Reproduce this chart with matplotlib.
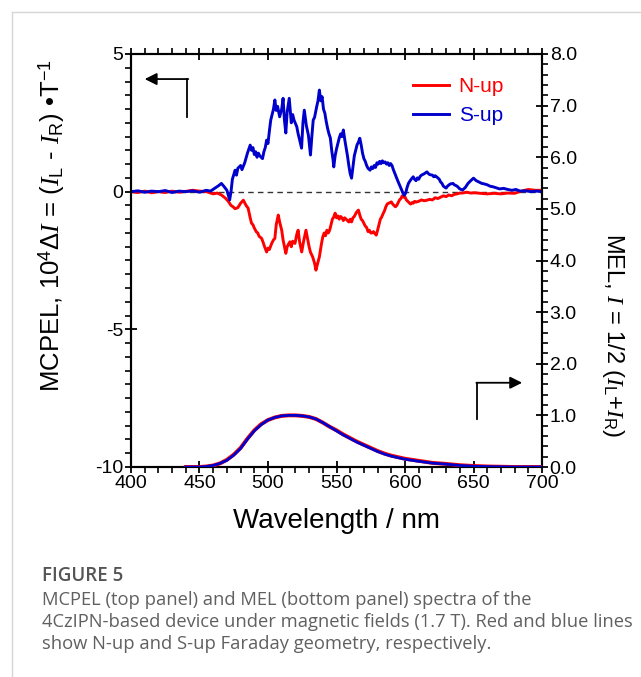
import matplotlib
matplotlib.use("Agg")
import matplotlib.pyplot as plt
from matplotlib.lines import Line2D
from matplotlib.ticker import MultipleLocator, FormatStrFormatter

plt.rcParams["font.family"] = ["Liberation Sans", "DejaVu Sans"]
plt.rcParams["axes.unicode_minus"] = False
plt.rcParams["mathtext.fontset"] = "custom"
plt.rcParams["mathtext.rm"] = "Liberation Sans"
plt.rcParams["mathtext.it"] = "Liberation Serif:italic"

RED = "#ff0000"
BLUE = "#0000cc"
INK = "#000000"
CAPTION = "#606060"

# --- MCPEL, S-up (blue) ---
wl_s = [400, 405, 410, 415, 420, 425, 430, 435, 440, 445, 450, 455, 458, 461, 464, 466, 468, 470,
        472, 473, 474, 476, 477, 478, 480, 481, 483, 485, 486, 487, 488, 489, 490, 491, 492, 493,
        494, 496, 497, 498, 499, 500, 501, 502, 503, 504, 505, 506, 507, 508.5, 510, 511, 512, 513,
        514, 515.5, 517, 518, 519, 521, 522, 523, 524.5, 525.5, 526.5, 528, 529.5, 531, 532, 533,
        534, 535.5, 536.5, 537.5, 538.5, 539.5, 540.5, 541.5, 542.5, 543.5, 544.5, 545.5, 546.5,
        547.5, 548, 549, 550, 551, 552, 553, 554, 555, 556, 557, 558, 559, 560, 561, 562, 563, 564,
        565, 566, 567, 568, 569, 570, 571, 572, 573, 574.5, 575.5, 576.5, 577.5, 578.5, 579.5,
        580.5, 581.5, 582.5, 583.5, 584.5, 585.5, 586.5, 587.5, 588.5, 589.5, 590.5, 591.5, 592.5,
        593.5, 594.5, 595.5, 596.5, 597.5, 598.5, 599.5, 600.5, 601.5, 602.5, 603.5, 604.5, 606,
        607, 608, 609, 610, 611, 612, 614, 616, 617, 618, 620, 621, 622, 624, 625, 626, 627, 628,
        630, 631, 633, 635, 636, 638, 640, 642, 644, 646, 648, 650, 652, 654, 656, 658, 660, 662,
        664, 666, 669, 672, 675, 678, 681, 684, 688, 692, 696, 700]
mcpel_s = [0.0, 0.03, -0.02, 0.02, 0.0, 0.04, -0.03, 0.02, 0.0, 0.03, -0.02, 0.05, 0.02, 0.12,
           0.22, 0.3, 0.18, 0.05, -0.3, 0.0, 0.45, 0.78, 0.6, 0.85, 0.95, 0.8, 1.05, 1.4, 1.55,
           1.69, 1.5, 1.6, 1.35, 1.45, 1.25, 1.4, 1.3, 1.2, 1.45, 1.6, 1.87, 1.75, 2.2, 2.6, 2.8,
           3.0, 3.33, 2.95, 3.1, 2.72, 3.0, 3.39, 2.6, 2.13, 2.9, 3.39, 2.5, 2.8, 2.6, 2.36, 2.1,
           1.9, 1.58, 2.5, 2.96, 2.4, 2.05, 1.33, 2.0, 2.6, 2.7, 3.08, 3.3, 3.69, 3.3, 3.45, 3.0,
           2.85, 2.55, 2.3, 2.1, 1.95, 1.5, 1.15, 0.9, 1.3, 1.55, 1.75, 1.95, 2.1, 2.0, 2.24, 1.9,
           1.6, 1.3, 0.95, 0.65, 0.49, 0.9, 1.3, 1.5, 1.7, 1.8, 1.94, 1.7, 1.4, 1.2, 1.1, 0.95,
           0.85, 0.78, 0.9, 0.84, 0.95, 0.88, 1.05, 1.0, 1.1, 1.02, 1.12, 1.05, 1.08, 1.0, 1.05,
           0.95, 1.02, 0.95, 0.8, 0.67, 0.55, 0.42, 0.3, 0.18, 0.05, -0.05, -0.13, -0.05, 0.15,
           0.3, 0.38, 0.45, 0.54, 0.45, 0.4, 0.5, 0.45, 0.55, 0.6, 0.65, 0.72, 0.66, 0.62, 0.6,
           0.54, 0.58, 0.5, 0.45, 0.35, 0.3, 0.2, 0.13, 0.2, 0.28, 0.3, 0.25, 0.2, 0.1, 0.06, 0.15,
           0.3, 0.4, 0.49, 0.4, 0.35, 0.3, 0.28, 0.25, 0.2, 0.18, 0.15, 0.1, 0.12, 0.08, 0.05,
           0.08, 0.02, 0.03, 0.0, 0.02, 0.0]

# --- MCPEL, N-up (red) ---
wl_n = [400, 405, 410, 415, 420, 425, 430, 435, 440, 445, 450, 455, 460, 463, 466, 469, 471, 473,
        474.5, 476, 478, 480, 482, 484, 485.5, 487, 488, 489, 490, 491.5, 492.5, 493.5, 495.4,
        496.5, 497.5, 499, 500, 501, 502.7, 504, 505, 506, 507.5, 508.5, 510, 511, 512, 513, 514,
        515, 516, 517, 518, 519.7, 521, 522, 523, 524.6, 526, 527.7, 529, 530, 531, 532.6, 534,
        535, 536, 537.5, 539, 540, 541, 542, 543, 544, 545, 546, 547, 548, 549, 550, 551, 552,
        553, 554, 555, 556, 557, 558, 559, 560, 561, 562, 563, 564, 565, 566, 567, 568, 569, 570,
        571, 572, 573, 574, 575, 576, 577, 578, 579, 580, 581, 582, 583, 584, 585, 586, 587, 588,
        589, 590, 591, 592, 593, 594, 595, 596, 597, 598, 599, 600, 601, 602, 603, 604, 605, 606,
        607, 608, 610, 612, 614, 616, 618, 620, 622, 624, 626, 628, 630, 632, 634, 636, 638, 640,
        642, 645, 648, 651, 655, 660, 665, 670, 675, 680, 685, 690, 695, 700]
mcpel_n = [0.0, -0.03, 0.02, -0.04, 0.0, -0.03, 0.02, -0.02, 0.01, 0.05, 0.02, 0.0, -0.08, -0.05,
           -0.12, -0.24, -0.35, -0.5, -0.55, -0.62, -0.58, -0.42, -0.31, -0.5, -0.6, -0.95, -1.15,
           -1.2, -1.32, -1.46, -1.5, -1.62, -1.7, -1.85, -2.0, -2.19, -2.05, -2.1, -1.88, -1.75,
           -1.7, -1.2, -0.85, -1.1, -1.4, -1.75, -2.0, -2.24, -2.0, -1.9, -1.82, -2.0, -1.8, -1.88,
           -1.55, -1.4, -1.8, -2.19, -1.8, -1.4, -1.75, -2.0, -2.2, -2.37, -2.6, -2.85, -2.65,
           -2.37, -1.9, -1.64, -1.5, -1.6, -1.4, -1.5, -1.4, -1.2, -1.0, -0.92, -0.78, -0.95,
           -0.88, -1.0, -0.9, -0.95, -1.05, -0.95, -1.0, -1.05, -1.1, -1.0, -1.1, -0.95, -0.9,
           -0.8, -0.72, -0.67, -0.85, -1.0, -1.05, -1.15, -1.25, -1.3, -1.45, -1.4, -1.5, -1.5,
           -1.45, -1.52, -1.58, -1.4, -1.2, -1.0, -0.92, -0.8, -0.7, -0.55, -0.45, -0.42, -0.4,
           -0.37, -0.45, -0.5, -0.55, -0.5, -0.4, -0.3, -0.25, -0.15, -0.2, -0.19, -0.3, -0.35,
           -0.4, -0.45, -0.4, -0.42, -0.35, -0.38, -0.35, -0.3, -0.33, -0.31, -0.28, -0.3, -0.22,
           -0.25, -0.2, -0.15, -0.18, -0.12, -0.15, -0.1, -0.08, -0.05, -0.05, -0.02, -0.05, -0.04,
           -0.06, -0.08, -0.06, -0.08, -0.05, -0.06, 0.02, 0.08, 0.05, 0.05]

# --- MEL (right axis) ---
wl_mel = [440, 450, 455, 460, 465, 470, 475, 480, 485, 490, 495, 500, 505, 510, 515, 520, 525,
          530, 535, 540, 545, 550, 555, 560, 565, 570, 575, 580, 585, 590, 595, 600, 610, 620,
          630, 640, 650, 660, 670, 680, 690, 700]
mel_n = [0.0, 0.0, 0.01, 0.03, 0.07, 0.14, 0.24, 0.37, 0.55, 0.71, 0.83, 0.91, 0.96, 0.99, 1.0,
         1.0, 0.99, 0.97, 0.93, 0.86, 0.78, 0.71, 0.63, 0.56, 0.49, 0.43, 0.37, 0.31, 0.26, 0.22,
         0.19, 0.16, 0.12, 0.08, 0.06, 0.035, 0.02, 0.01, 0.005, 0.0, 0.0, 0.0]
mel_s = [0.0, 0.0, 0.01, 0.03, 0.07, 0.13, 0.23, 0.36, 0.54, 0.70, 0.82, 0.91, 0.96, 0.99, 1.0,
         1.0, 0.99, 0.97, 0.93, 0.86, 0.78, 0.70, 0.62, 0.55, 0.48, 0.42, 0.36, 0.30, 0.25, 0.21,
         0.18, 0.15, 0.11, 0.075, 0.055, 0.03, 0.015, 0.008, 0.004, 0.0, 0.0, 0.0]

fig = plt.figure(figsize=(6.41, 6.77), dpi=100)
fig.patch.set_facecolor("white")

# card border (light grey, top and left)
fig.add_artist(Line2D([12 / 641, 12 / 641], [0, 1 - 12 / 677], color="#d6d6d6", lw=1.0))
fig.add_artist(Line2D([12 / 641, 1], [1 - 12 / 677, 1 - 12 / 677], color="#d6d6d6", lw=1.0))

ax = fig.add_axes([131 / 641, 1 - 467 / 677, 411 / 641, 413 / 677])
ax2 = ax.twinx()

ax.axhline(0, color="#333333", lw=1.0, ls=(0, (4, 3)), zorder=1)
ax.plot(wl_n, mcpel_n, color=RED, lw=2.1, label="N-up", zorder=3)
ax.plot(wl_s, mcpel_s, color=BLUE, lw=2.1, label="S-up", zorder=4)
ax2.plot(wl_mel, mel_n, color=RED, lw=2.8, zorder=3)
ax2.plot(wl_mel, mel_s, color=BLUE, lw=2.0, zorder=4)

ax.set_xlim(400, 700)
ax.set_ylim(-10, 5)
ax2.set_ylim(0, 8)

ax.xaxis.set_major_locator(MultipleLocator(50))
ax.xaxis.set_minor_locator(MultipleLocator(10))
ax.yaxis.set_major_locator(MultipleLocator(5))
ax.yaxis.set_minor_locator(MultipleLocator(0.5))
ax2.yaxis.set_major_locator(MultipleLocator(1))
ax2.yaxis.set_minor_locator(MultipleLocator(0.2))
ax2.yaxis.set_major_formatter(FormatStrFormatter("%.1f"))

for a in (ax, ax2):
    for s in a.spines.values():
        s.set_linewidth(1.5)
        s.set_color(INK)
ax.tick_params(axis="x", which="both", top=True, bottom=True, labelsize=14, pad=1)
ax.tick_params(axis="y", which="both", left=True, right=False, labelsize=14, pad=1)
ax.tick_params(which="major", direction="inout", length=9, width=1.3)
ax.tick_params(which="minor", direction="out", length=4, width=1.2)
ax2.tick_params(axis="y", which="major", direction="inout", length=9, width=1.3,
                labelsize=14, pad=1)
ax2.tick_params(axis="y", which="minor", direction="out", length=4, width=1.2)

ax.set_xlabel("Wavelength / nm", fontsize=20, labelpad=12)
ax.set_ylabel(r"MCPEL, 10$^4$Δ$I$ = ($I_{\rm L}$ - $I_{\rm R}$) •T$^{-1}$", fontsize=18.5)
ax.yaxis.set_label_coords(-0.155, 0.585)
ax2.set_ylabel(r"MEL, $I$ = 1/2 ($I_{\rm L}$+$I_{\rm R}$)", fontsize=17, rotation=270)
ax2.yaxis.set_label_coords(1.205, 0.32)

leg = ax.legend(loc="upper left", bbox_to_anchor=(0.64, 0.99), frameon=False,
                fontsize=15, handlelength=1.75, handletextpad=0.45, labelspacing=0.5)
for txt, col in zip(leg.get_texts(), (RED, BLUE)):
    txt.set_color(col)

# axis-assignment arrows
ax.plot([441.1, 441.1], [2.71, 4.09], color=INK, lw=1.3)
ax.annotate("", xy=(410.0, 4.09), xytext=(441.8, 4.09),
            arrowprops=dict(arrowstyle="-|>", color=INK, lw=1.3, mutation_scale=18,
                            shrinkA=0, shrinkB=0))
ax.plot([652.8, 652.8], [-8.25, -6.94], color=INK, lw=1.3)
ax.annotate("", xy=(685.5, -6.94), xytext=(652.1, -6.94),
            arrowprops=dict(arrowstyle="-|>", color=INK, lw=1.3, mutation_scale=18,
                            shrinkA=0, shrinkB=0))

cap = ["Open Sans", "DejaVu Sans"]
fig.text(42 / 641, 1 - 576 / 677, "FIGURE 5", fontsize=13.5, fontweight="semibold",
         color="#555555", family=cap, va="center")
caption = ("MCPEL (top panel) and MEL (bottom panel) spectra of the\n"
           "4CzIPN-based device under magnetic fields (1.7 T). Red and blue lines\n"
           "show N-up and S-up Faraday geometry, respectively.")
fig.text(42 / 641, 1 - 591 / 677, caption, fontsize=13.2, color=CAPTION, family=cap,
         va="top", linespacing=1.3)

fig.savefig("out.png", dpi=100, facecolor="white")
